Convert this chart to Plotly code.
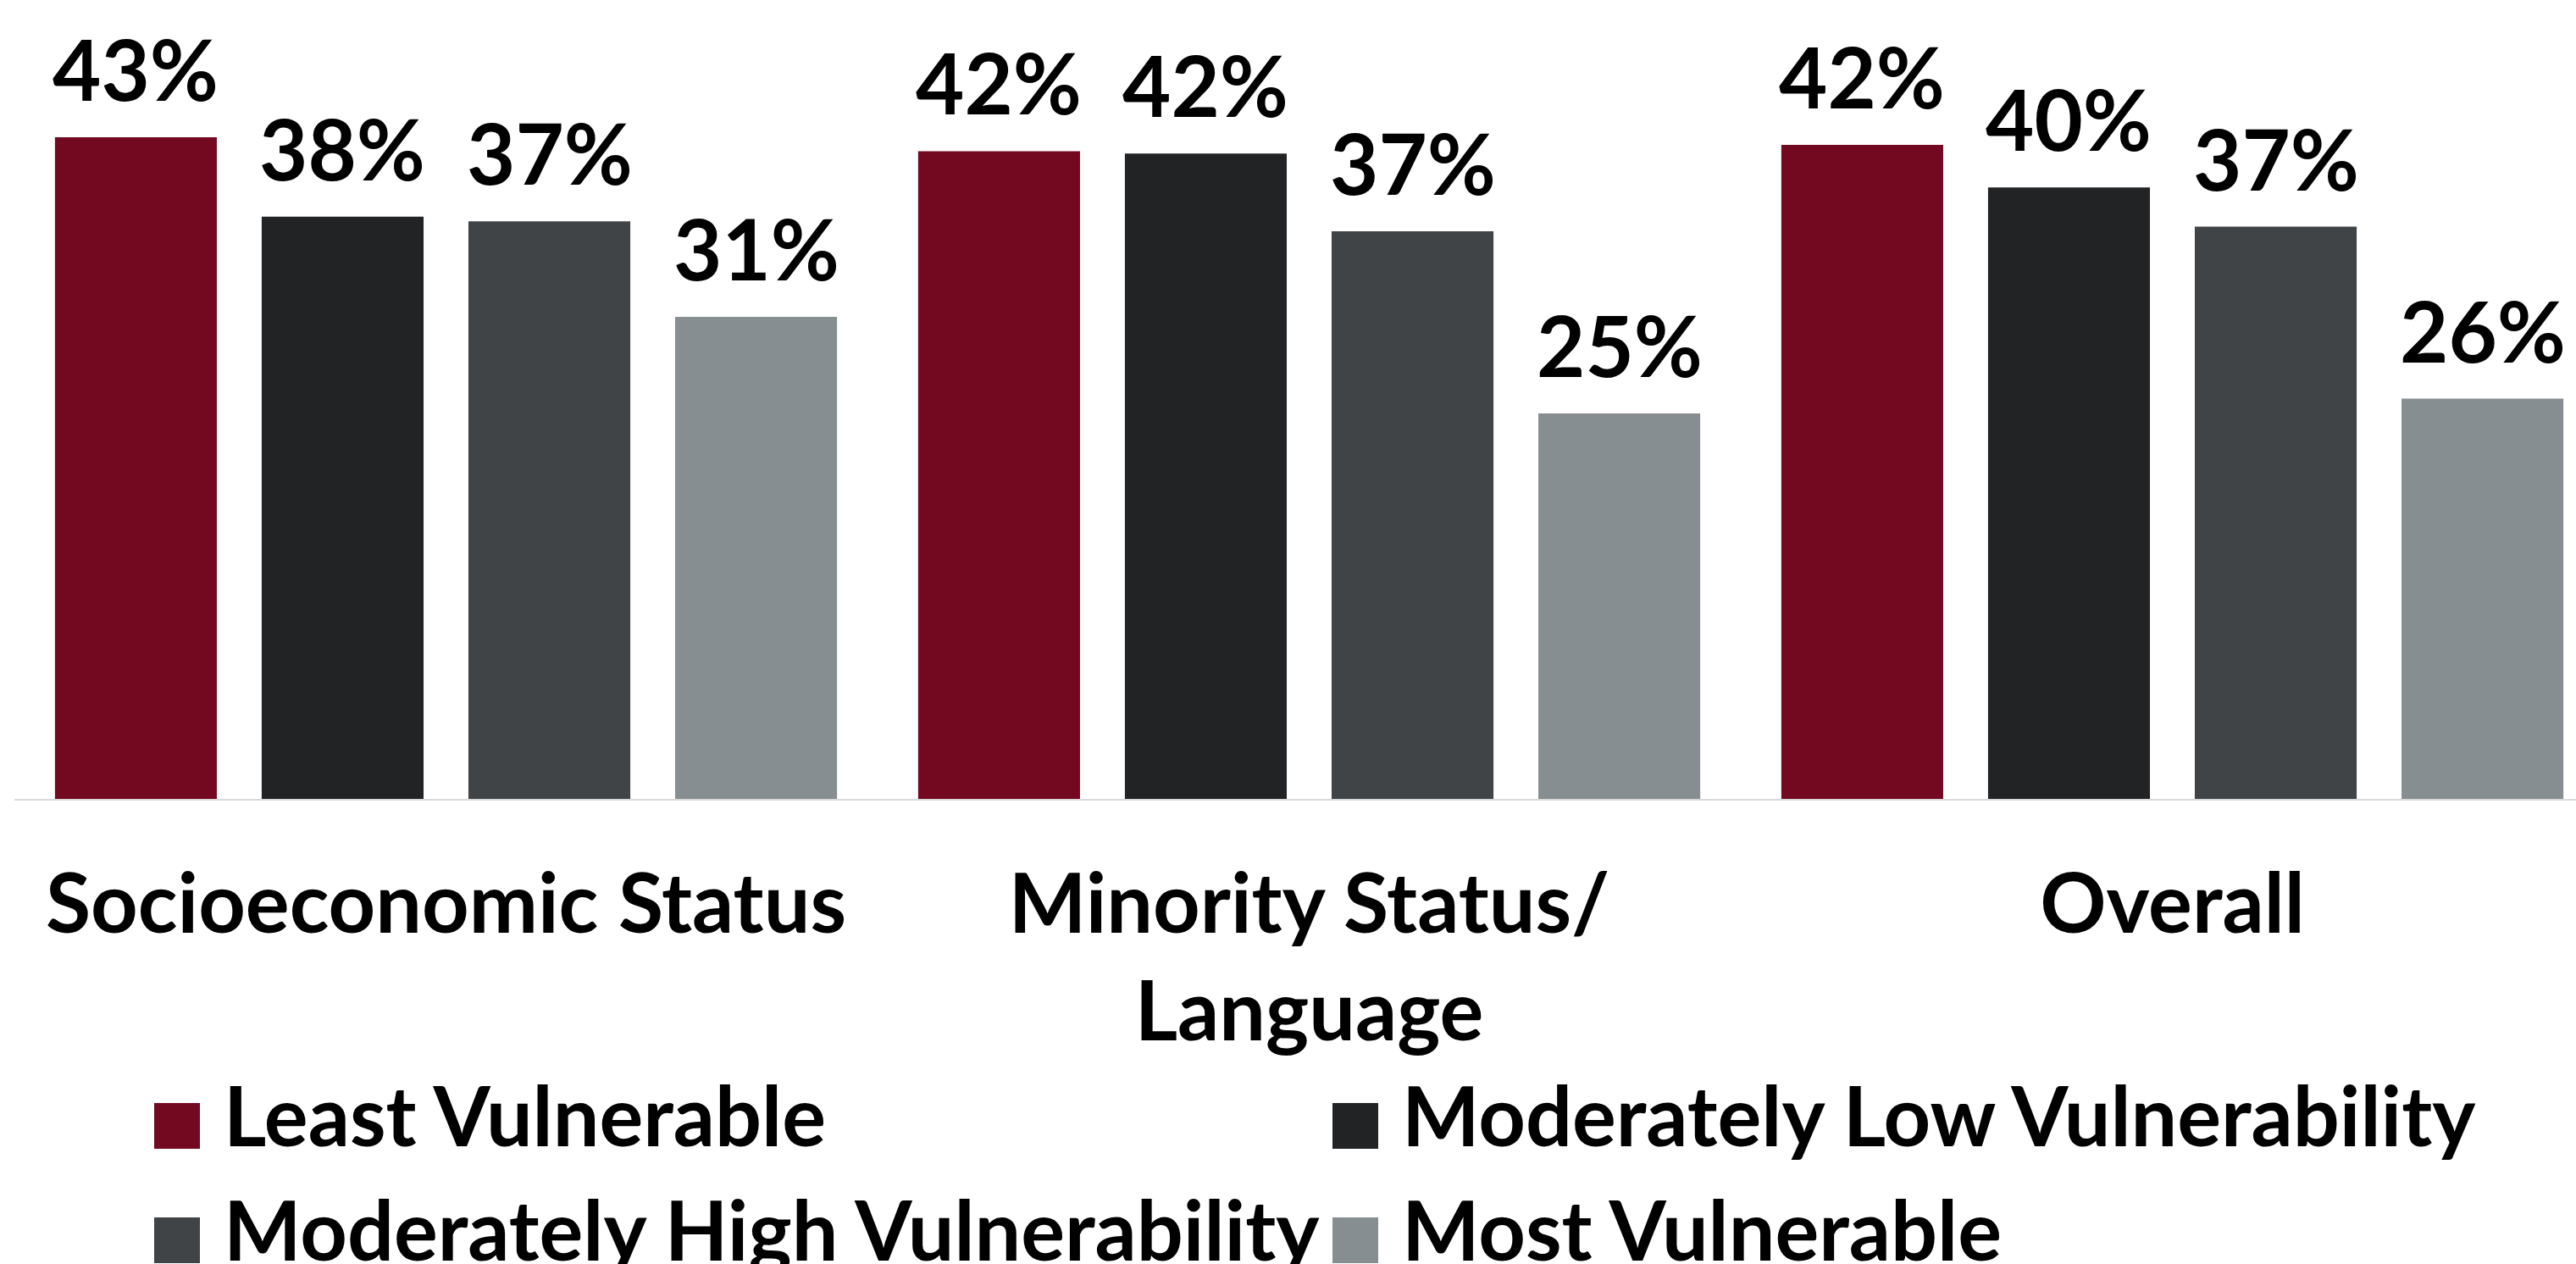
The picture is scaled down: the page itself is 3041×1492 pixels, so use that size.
import plotly.graph_objects as go

# ---- data ----
categories = ["Socioeconomic Status", "Minority Status/<br>Language", "Overall"]
series_names = ["Least Vulnerable", "Moderately Low Vulnerability",
                "Moderately High Vulnerability", "Most Vulnerable"]
least_vulnerable = [42.9, 42.0, 42.4]
moderately_low = [37.75, 41.85, 39.65]
moderately_high = [37.45, 36.8, 37.1]
most_vulnerable = [31.25, 25.0, 25.95]
series_values = [least_vulnerable, moderately_low, moderately_high, most_vulnerable]
colors = ["#720920", "#222325", "#404446", "#878e91"]

# ---- layout constants ----
W, H = 3041, 1492
ML, MT, MB, MR = 17, 0, 549, 0
PW, PH = W - ML - MR, H - MT - MB
CAT_PX = 1019.0            # pixel width of one category slot
BARGAP = 0.042
BARGROUPGAP = 0.217
YMAX = 51.8
FONT = "Lato"
FS = 97
FS_LABEL = 99

fig = go.Figure()
for name, vals, col in zip(series_names, series_values, colors):
    fig.add_trace(go.Bar(
        x=list(range(len(categories))), y=vals, name=name,
        marker=dict(color=col, line=dict(width=0)),
        showlegend=False, hoverinfo="skip",
    ))

# value labels above bars (positioned through the axis scale)
n = len(series_values)
slot = (1 - BARGAP) / n
annotations = []
for i, vals in enumerate(series_values):
    off = (i - (n - 1) / 2) * slot
    for j, v in enumerate(vals):
        annotations.append(dict(
            x=j + off, y=v, xref="x", yref="y", text=f"{v:.0f}%",
            showarrow=False, yanchor="bottom", xanchor="center", yshift=20,
            font=dict(family=FONT, size=FS_LABEL, color="black", weight="bold"),
        ))

# manual legend (big square swatches)
def px2paper_x(px):
    return (px - ML) / PW

def px2paper_y(py):
    return (MT + PH - py) / PH

legend_pos = [(182, 1302), (1573, 1302), (182, 1437), (1573, 1437)]
SW = 54
shapes = []
for (lx, ly), name, col in zip(legend_pos, series_names, colors):
    shapes.append(dict(
        type="rect", xref="paper", yref="paper",
        x0=px2paper_x(lx), x1=px2paper_x(lx + SW),
        y0=px2paper_y(ly + SW), y1=px2paper_y(ly),
        fillcolor=col, line=dict(width=0),
    ))
    annotations.append(dict(
        x=px2paper_x(lx + 80), y=px2paper_y(ly + 53 + 21), xref="paper", yref="paper",
        text=name, showarrow=False, xanchor="left", yanchor="bottom",
        font=dict(family=FONT, size=FS, color="black", weight="bold"),
    ))

fig.update_layout(
    width=W, height=H,
    margin=dict(l=ML, r=MR, t=MT, b=MB, pad=0),
    paper_bgcolor="white", plot_bgcolor="white",
    barmode="group", bargap=BARGAP, bargroupgap=BARGROUPGAP,
    showlegend=False,
    annotations=annotations, shapes=shapes,
    xaxis=dict(
        tickmode="array", tickvals=list(range(len(categories))), ticktext=categories,
        range=[-0.5, -0.5 + PW / CAT_PX],
        showline=True, linecolor="#d9d9d9", linewidth=2,
        showgrid=False, zeroline=False, ticks="",
        ticklabelstandoff=40,
        tickfont=dict(family=FONT, size=FS, color="black", weight="bold"),
    ),
    yaxis=dict(range=[0, YMAX], visible=False, showgrid=False, zeroline=False),
)

fig.write_html("out.html")
